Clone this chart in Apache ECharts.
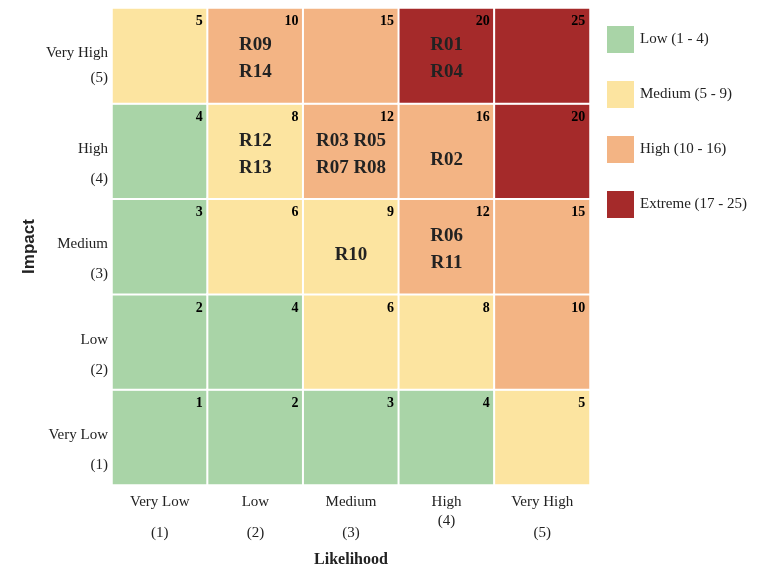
<!DOCTYPE html>
<html>
<head>
<meta charset="utf-8">
<title>Risk Matrix</title>
<script src="https://cdn.jsdelivr.net/npm/echarts@6/dist/echarts.min.js"></script>
<style>
    html, body { margin: 0; padding: 0; background: #fff; }
    #risk-matrix { width: 771px; height: 572px; }
</style>
</head>
<body>
<div id="risk-matrix"></div>
<script>
//数据
var likelihoodLabels = ["Very Low\n(1)", "Low\n(2)", "Medium\n(3)", "High\n(4)", "Very High\n(5)"];
var impactLabels = ["Very Low\n(1)", "Low\n(2)", "Medium\n(3)", "High\n(4)", "Very High\n(5)"];
var levelNames = ["Low (1 - 4)", "Medium (5 - 9)", "High (10 - 16)", "Extreme (17 - 25)"];
var levelMin = [1, 5, 10, 17];
var levelMax = [4, 9, 16, 25];
var levelColors = ["#a9d4a7", "#fce4a0", "#f3b484", "#a52a2a"];
// [likelihood index, impact index, risk ids]
var riskCells = [
    [1, 4, "R09\nR14"],
    [3, 4, "R01\nR04"],
    [1, 3, "R12\nR13"],
    [2, 3, "R03 R05\nR07 R08"],
    [3, 3, "R02"],
    [2, 2, "R10"],
    [3, 2, "R06\nR11"]
];

var serif = "'Liberation Serif', 'Times New Roman', serif";

//初始化图表实例
var riskMatrix = echarts.init(document.getElementById("risk-matrix"));

//分值 = 可能性 x 影响
var scoreData = [];
for (var i = 0; i < likelihoodLabels.length; i++) {
    for (var j = 0; j < impactLabels.length; j++) {
        scoreData.push([i, j, (i + 1) * (j + 1)]);
    }
}

var pieces = [];
for (var k = 0; k < levelNames.length; k++) {
    pieces.push({ min: levelMin[k], max: levelMax[k], label: levelNames[k], color: levelColors[k] });
}

function richStyle(lh) {
    return { lineHeight: lh, fontSize: 15, fontFamily: serif, color: "#222" };
}

//图表配置项
var option = {
    animation: false,
    grid: {
        left: 112,
        right: 181,
        top: 8,
        bottom: 87,
        outerBoundsMode: "none"
    },
    xAxis: {
        type: "category",
        data: likelihoodLabels,
        name: "Likelihood",
        nameLocation: "middle",
        nameGap: 67,
        nameTextStyle: { fontFamily: serif, fontWeight: "bold", fontSize: 16, color: "#222" },
        axisLine: { show: false },
        axisTick: { show: false },
        splitArea: { show: false },
        axisLabel: {
            interval: 0,
            hideOverlap: false,
            margin: 2,
            fontFamily: serif,
            fontSize: 15,
            color: "#222",
            //"High (4)" 这一列行距更小
            formatter: function(value, index) {
                var parts = value.split("\n");
                var b = index === 3 ? "s" : "a";
                return "{a|" + parts[0] + "}\n{" + b + "|" + parts[1] + "}";
            },
            rich: {
                a: richStyle(31),
                s: richStyle(7)
            }
        }
    },
    yAxis: {
        type: "category",
        data: impactLabels,
        name: "Impact",
        nameLocation: "middle",
        nameGap: 74,
        nameMoveOverlap: false,
        nameTextStyle: { fontFamily: "'Liberation Sans', Arial, sans-serif", fontWeight: "bold", fontSize: 17, color: "#222" },
        axisLine: { show: false },
        axisTick: { show: false },
        splitArea: { show: false },
        axisLabel: {
            interval: 0,
            margin: 4,
            fontFamily: serif,
            fontSize: 15,
            color: "#222",
            formatter: function(value, index) {
                var parts = value.split("\n");
                var s = index === 4 ? "5" : "";
                return "{g" + s + "| }\n{t" + s + "|" + parts[0] + "}\n{t" + s + "|" + parts[1] + "}";
            },
            rich: {
                g: richStyle(26),
                t: richStyle(30),
                g5: richStyle(20),
                t5: richStyle(25)
            }
        }
    },
    visualMap: {
        type: "piecewise",
        seriesIndex: 0,
        orient: "vertical",
        inverse: true,
        align: "left",
        left: 592,
        top: 11,
        itemWidth: 27,
        itemHeight: 27,
        itemGap: 28,
        textGap: 6,
        itemSymbol: "rect",
        hoverLink: false,
        selectedMode: false,
        pieces: pieces,
        textStyle: { fontFamily: serif, fontSize: 15, color: "#222" }
    },
    series: [
        {
            type: "heatmap",
            data: scoreData,
            itemStyle: { borderColor: "#fff", borderWidth: 2 },
            emphasis: { disabled: true },
            label: {
                show: true,
                position: "insideTopRight",
                distance: 5,
                offset: [-1, 3],
                fontFamily: serif,
                fontWeight: "bold",
                fontSize: 14,
                color: "#000",
                formatter: function(p) { return p.data[2]; }
            }
        },
        {
            type: "scatter",
            data: riskCells.map(function(c) {
                return {
                    value: c,
                    label: { offset: [0, c[2].indexOf("\n") > 0 ? 3 : 9] }
                };
            }),
            symbolSize: 1,
            itemStyle: { color: "rgba(0,0,0,0)", opacity: 1 },
            silent: true,
            z: 5,
            label: {
                show: true,
                position: "inside",
                fontFamily: serif,
                fontWeight: "bold",
                fontSize: 19,
                lineHeight: 27,
                color: "#222",
                opacity: 1,
                formatter: function(p) { return p.data.value[2]; }
            }
        }
    ]
};

//使用以上配置项配置图表
riskMatrix.setOption(option);
</script>
</body>
</html>
